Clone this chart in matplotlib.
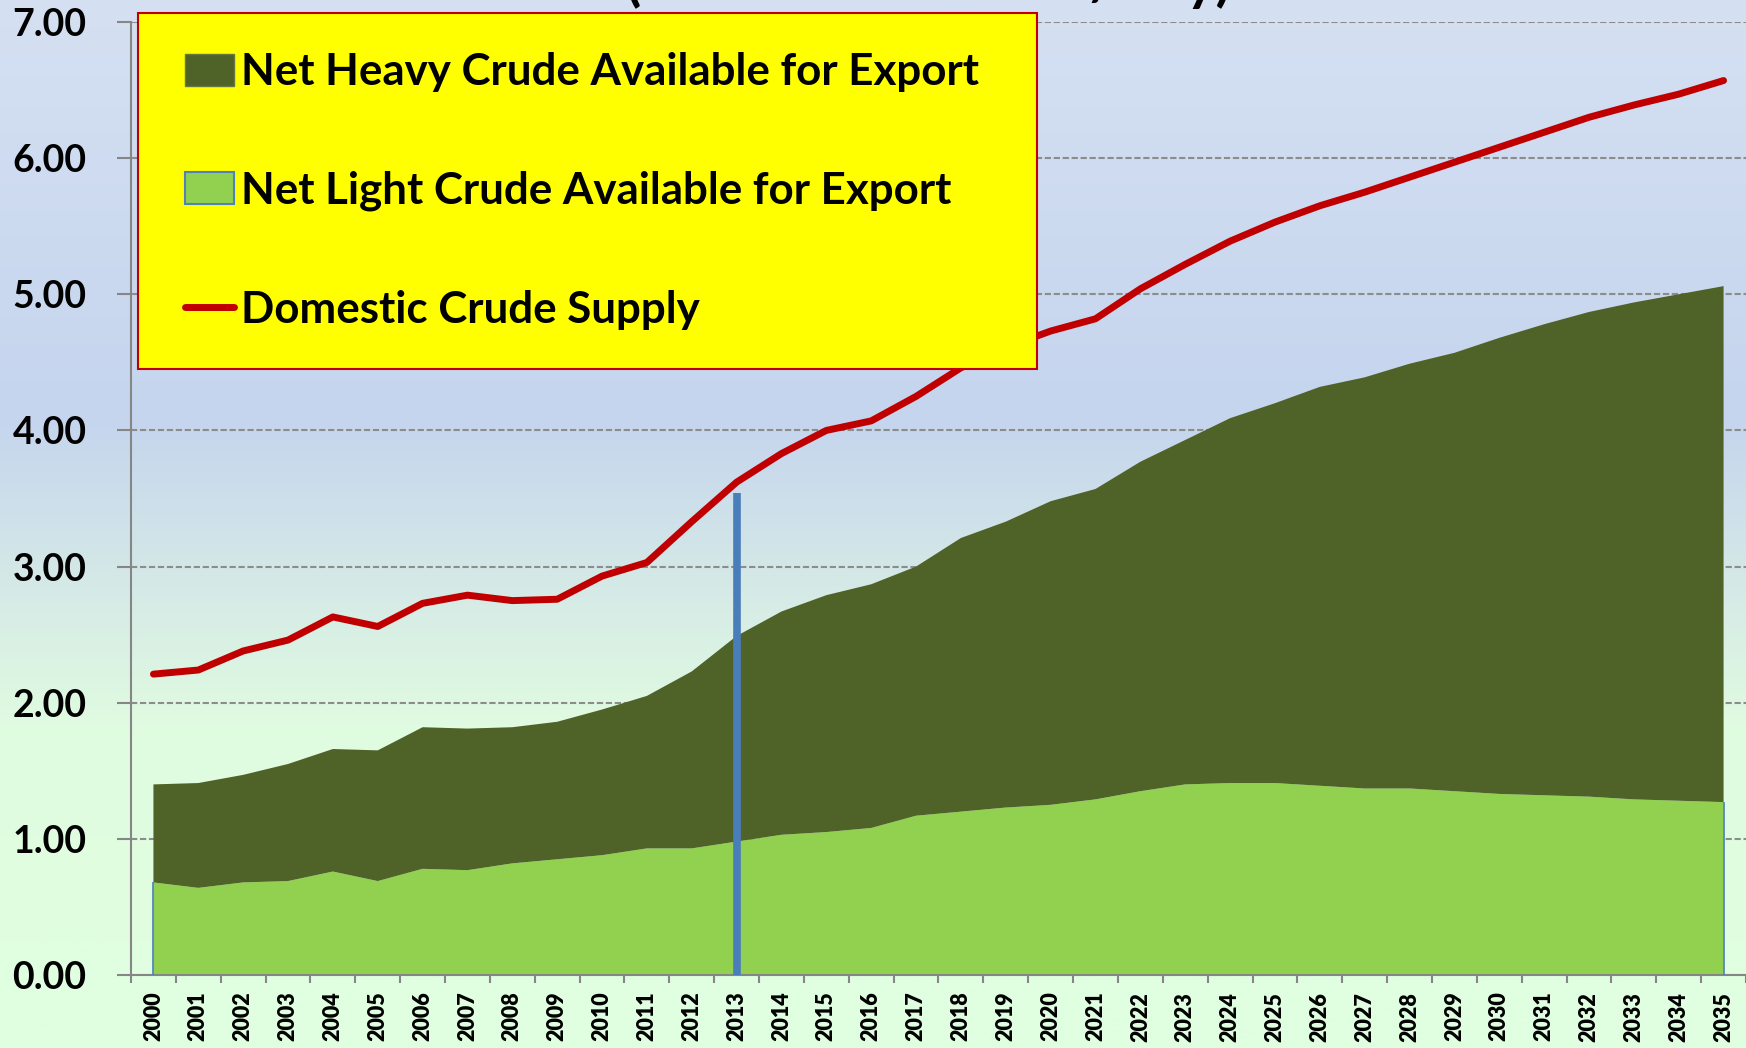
import matplotlib
matplotlib.use("Agg")
import matplotlib.pyplot as plt
import numpy as np
from matplotlib.colors import to_rgb
from matplotlib.legend_handler import HandlerLine2D, HandlerPatch
from matplotlib.lines import Line2D
from matplotlib.patches import Patch

plt.rcParams["font.family"] = ["Lato", "DejaVu Sans"]
plt.rcParams["font.weight"] = "bold"

# ---- data (million barrels per day) ----
years = list(range(2000, 2036))
light_crude = [0.68, 0.64, 0.68, 0.69, 0.76, 0.69, 0.78, 0.77, 0.82, 0.85,
               0.88, 0.93, 0.93, 0.98, 1.03, 1.05, 1.08, 1.17, 1.20, 1.23,
               1.25, 1.29, 1.35, 1.40, 1.41, 1.41, 1.39, 1.37, 1.37, 1.35,
               1.33, 1.32, 1.31, 1.29, 1.28, 1.27]
heavy_crude = [0.72, 0.77, 0.79, 0.86, 0.90, 0.96, 1.04, 1.04, 1.00, 1.01,
               1.07, 1.12, 1.30, 1.51, 1.64, 1.74, 1.79, 1.83, 2.01, 2.10,
               2.23, 2.28, 2.42, 2.53, 2.68, 2.79, 2.93, 3.02, 3.12, 3.22,
               3.35, 3.46, 3.56, 3.65, 3.72, 3.79]
domestic_supply = [2.21, 2.24, 2.38, 2.46, 2.63, 2.56, 2.73, 2.79, 2.75, 2.76,
                   2.93, 3.03, 3.33, 3.62, 3.83, 4.00, 4.07, 4.25, 4.46, 4.61,
                   4.73, 4.82, 5.04, 5.22, 5.39, 5.53, 5.65, 5.75, 5.86, 5.97,
                   6.08, 6.19, 6.30, 6.39, 6.47, 6.57]
marker_year = 2013
marker_value = 3.54
y_ticks = [0, 1, 2, 3, 4, 5, 6, 7]
labels = ["Net Heavy Crude Available for Export",
          "Net Light Crude Available for Export",
          "Domestic Crude Supply"]
title = "(Millions of Barrels/Day)"

HEAVY = "#4F6228"
LIGHT = "#92D050"
RED = "#C00000"
BLUE = "#4A7EBB"
GRID = "#8C8C8C"

fig = plt.figure(figsize=(17.46, 10.48), dpi=100)

# gradient background over the whole figure (blue at top -> pale green at bottom)
stops = [(0.0, "#D5E0F2"), (0.40, "#C5D5EE"), (0.57, "#D6EBE6"),
         (0.70, "#E0FCE0"), (1.0, "#E0FFE0")]
pos = np.linspace(0, 1, 512)
grad = np.array([[np.interp(p, [s[0] for s in stops],
                            [to_rgb(s[1])[c] for s in stops]) for c in range(3)]
                 for p in pos])
bg = fig.add_axes([0, 0, 1, 1], zorder=-10)
bg.imshow(grad[:, None, :], aspect="auto", extent=(0, 1, 0, 1))
bg.set_axis_off()

ax = fig.add_axes([131 / 1746, 73 / 1048, 1615 / 1746, 953 / 1048])
ax.set_facecolor("none")

x = np.arange(len(years))
ax.stackplot(x, light_crude, heavy_crude, colors=[LIGHT, HEAVY], zorder=2,
             linewidth=0)
ax.vlines([x[0], x[-1]], 0, [light_crude[0], light_crude[-1]], color=BLUE,
          lw=1.2, zorder=3)
ax.plot(x, domestic_supply, color=RED, lw=5, solid_capstyle="round",
        solid_joinstyle="round", zorder=4)
ax.vlines(years.index(marker_year), 0, marker_value, color=BLUE, lw=5.5,
          zorder=4)

ax.set_xlim(-0.5, len(years) - 0.5)
ax.set_ylim(0, 7)
ax.set_yticks(y_ticks)
ax.set_yticklabels([f"{v:.2f}" for v in y_ticks])
ax.yaxis.grid(True, color=GRID, lw=1.5, linestyle=(0, (3, 1.3)))
ax.set_axisbelow(True)

# category axis: tick marks between categories, labels at centres
ax.set_xticks(np.arange(-0.5, len(years)))
ax.set_xticklabels([])
ax.set_xticks(x, minor=True)
ax.set_xticklabels([str(y) for y in years], minor=True, rotation=90,
                   fontsize=15.5, fontweight="heavy")
ax.tick_params(axis="x", which="major", length=6, width=1.5, color="#868686")
ax.tick_params(axis="x", which="minor", length=0, pad=12)
ax.tick_params(axis="y", length=10, width=1.5, color="#868686", pad=22,
               labelsize=27)
for lab in ax.get_yticklabels():
    lab.set_fontweight("bold")

for side in ("top", "right"):
    ax.spines[side].set_visible(False)
for side in ("left", "bottom"):
    ax.spines[side].set_color("#868686")
    ax.spines[side].set_linewidth(1.5)

handles = [Patch(facecolor=HEAVY, edgecolor="#667a40", lw=1),
           Patch(facecolor=LIGHT, edgecolor="#4F81BD", lw=1.5),
           Line2D([0], [0], color=RED, lw=5, solid_capstyle="round")]
# nudge the legend keys right a little (more left padding than borderpad gives)
hmap = {Patch: HandlerPatch(xpad=0.17), Line2D: HandlerLine2D(xpad=0.17)}
leg = fig.legend(handles, labels, loc="upper left", mode="expand",
                 bbox_to_anchor=(138 / 1746, 1 - 367 / 1048, 899 / 1746, 354 / 1048),
                 prop={"weight": "bold", "size": 31.6}, handler_map=hmap,
                 frameon=True, fancybox=False, facecolor="#FFFF00",
                 edgecolor=RED, framealpha=1, borderaxespad=0,
                 borderpad=0.89, labelspacing=1.79, handlelength=1.3,
                 handleheight=0.75, handletextpad=0.15)
leg.get_frame().set_linewidth(1.5)

fig.text(928 / 1746, 1.0, title, ha="center", va="baseline",
         fontsize=40, fontweight="bold")

fig.savefig("out.png", dpi=100)
